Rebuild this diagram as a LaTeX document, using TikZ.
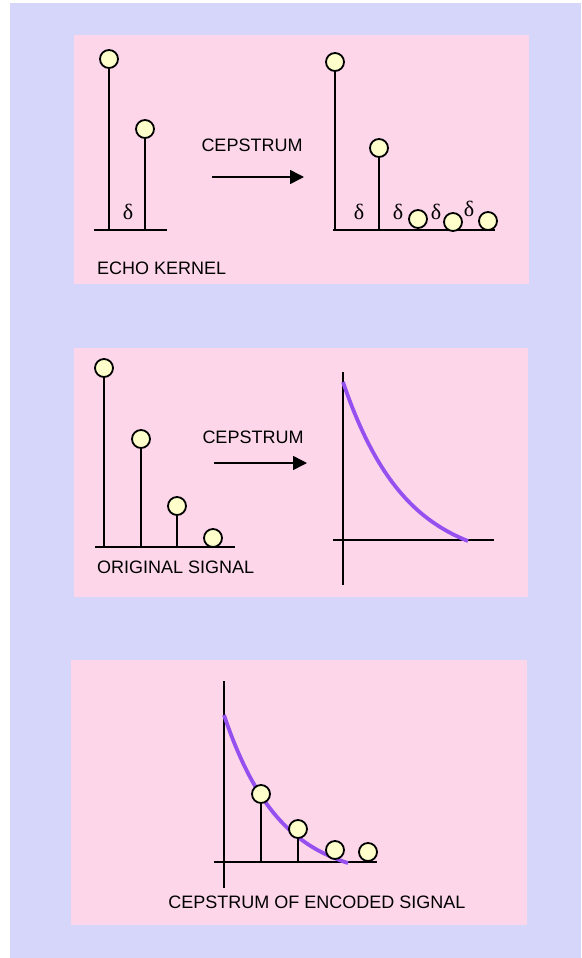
\documentclass[tikz,border=0pt]{standalone}
\usepackage{fontspec}
\setmainfont{Liberation Sans}
\newfontfamily\serifdelta{Liberation Serif}
\usetikzlibrary{arrows.meta}
\definecolor{bglav}{RGB}{214,214,250}
\definecolor{panelpink}{RGB}{253,214,234}
\definecolor{ballfill}{RGB}{255,255,204}
\definecolor{curvepurple}{RGB}{150,80,240}
\tikzset{
  panel/.style={fill=panelpink, draw=none},
  ball/.style={circle, draw=black, line width=1.8pt, fill=ballfill, minimum size=18pt, inner sep=0pt},
  stem/.style={line width=1.9pt, draw=black},
  axisline/.style={line width=1.9pt, draw=black},
  lbl/.style={font=\fontsize{18}{20}\selectfont, inner sep=0pt},
  dlt/.style={font=\serifdelta\fontsize{22}{24}\selectfont, inner sep=0pt},
  bigarrow/.style={line width=1.6pt, -{Triangle[length=14pt,width=14pt]}},
  decay/.style={curvepurple, line width=3.8pt}
}
\begin{document}
\begin{tikzpicture}[x=1pt,y=-1pt]
\useasboundingbox (0,0) rectangle (581,958);
\fill[white] (0,0) rectangle (581,958);
\fill[bglav] (10,3) rectangle (581,958);
% panels
\fill[panel] (74,35) rectangle (529,284);
\fill[panel] (74,348) rectangle (528,597);
\fill[panel] (71,660) rectangle (527,925);

% ===== Panel 1 =====
\coordinate (b1l) at (94,230);
\coordinate (b1r) at (167,230);
\draw[axisline] (b1l) -- (b1r);
\coordinate (s1a) at (109,230);
\coordinate (s1b) at (145,230);
\node[ball] (k1) at (109,59) {};
\node[ball] (k2) at (145,129) {};
\draw[stem] (s1a) -- (k1.south);
\draw[stem] (s1b) -- (k2.south);
\node[dlt] (d0) at (128,212) {δ};
\node[lbl] (ek) [anchor=west] at (97,268) {ECHO KERNEL};
\node[lbl] (cep1) at (252,145) {CEPSTRUM};
\coordinate (a1s) at (212,177);
\coordinate (a1e) at (304,177);
\draw[bigarrow] (a1s) -- (a1e);

\coordinate (b2l) at (333,230);
\coordinate (b2r) at (495,230);
\draw[axisline] (b2l) -- (b2r);
\coordinate (s2a) at (335,230);
\coordinate (s2b) at (379,230);
\coordinate (s2c) at (418,230);
\node[ball] (c1) at (335,62) {};
\node[ball] (c2) at (379,148) {};
\node[ball] (c3) at (418,219) {};
\node[ball] (c4) at (453,222) {};
\node[ball] (c5) at (488,221) {};
\draw[stem] (s2a) -- (c1.south);
\draw[stem] (s2b) -- (c2.south);
\draw[stem] (s2c) -- (c3.south);
\node[dlt] (d1) at (359,212) {δ};
\node[dlt] (d2) at (398,212) {δ};
\node[dlt] (d3) at (436,212) {δ};
\node[dlt] (d4) at (469,209) {δ};

% ===== Panel 2 =====
\coordinate (b3l) at (95,547);
\coordinate (b3r) at (235,547);
\draw[axisline] (b3l) -- (b3r);
\coordinate (s3a) at (104,547);
\coordinate (s3b) at (141,547);
\coordinate (s3c) at (177,547);
\node[ball] (o1) at (104,368) {};
\node[ball] (o2) at (141,439) {};
\node[ball] (o3) at (177,506) {};
\node[ball] (o4) at (213,538) {};
\draw[stem] (s3a) -- (o1.south);
\draw[stem] (s3b) -- (o2.south);
\draw[stem] (s3c) -- (o3.south);
\node[lbl] (os) [anchor=west] at (97,567) {ORIGINAL SIGNAL};
\node[lbl] (cep2) at (253,437) {CEPSTRUM};
\coordinate (a2s) at (214,463);
\coordinate (a2e) at (307,463);
\draw[bigarrow] (a2s) -- (a2e);

\coordinate (v2t) at (343,372);
\coordinate (v2b) at (343,585);
\coordinate (h2l) at (333,540);
\coordinate (h2r) at (494,540);
\draw[axisline] (v2t) -- (v2b);
\draw[axisline] (h2l) -- (h2r);
\draw[decay] plot[domain=0:125, samples=60, smooth] ({343+\x}, {541-159*(exp(-0.016*\x)-0.1353)/0.8647});

% ===== Panel 3 =====
\coordinate (v3t) at (224,681);
\coordinate (v3b) at (224,888);
\coordinate (h3l) at (214,862);
\coordinate (h3r) at (377,862);
\draw[axisline] (v3t) -- (v3b);
\draw[axisline] (h3l) -- (h3r);
\draw[decay] plot[domain=0:124, samples=60, smooth] ({224+\x}, {863-148*(exp(-0.018*\x)-0.1073)/0.8927});
\coordinate (s4a) at (261,862);
\coordinate (s4b) at (298,862);
\node[ball] (e1) at (261,794) {};
\node[ball] (e2) at (298,829) {};
\node[ball] (e3) at (335,850) {};
\node[ball] (e4) at (368,852) {};
\draw[stem] (s4a) -- (e1.south);
\draw[stem] (s4b) -- (e2.south);
\node[lbl] (ces) at (317,902) {CEPSTRUM OF ENCODED SIGNAL};
\end{tikzpicture}
\end{document}
